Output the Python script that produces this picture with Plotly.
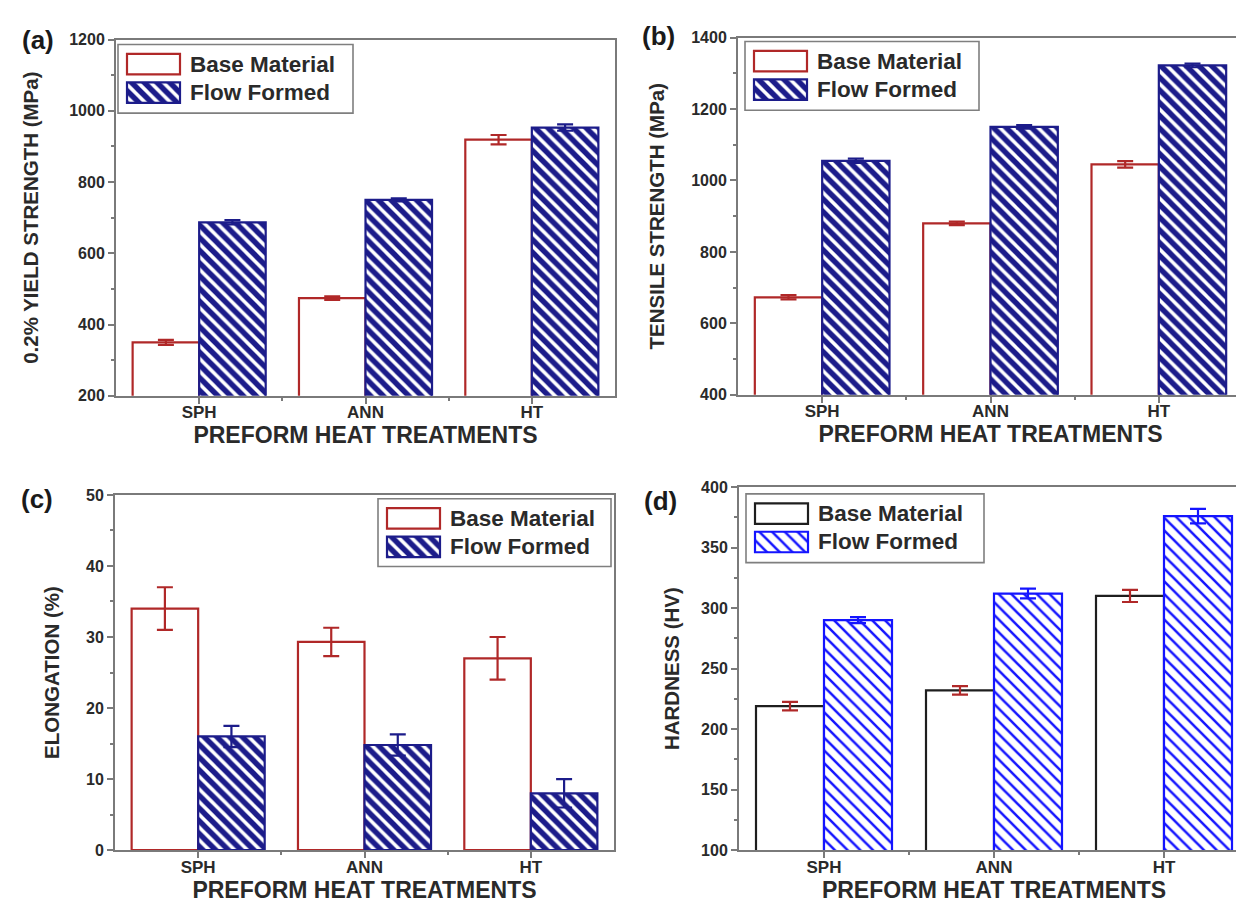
import plotly.graph_objects as go

# ---------------- data ----------------
categories = ["SPH", "ANN", "HT"]

yield_base = [350, 474, 919]
yield_base_err = [7, 5, 13]
yield_flow = [687, 750, 953]
yield_flow_err = [6, 4, 9]

tensile_base = [673, 880, 1045]
tensile_base_err = [6, 5, 9]
tensile_flow = [1055, 1150, 1322]
tensile_flow_err = [6, 5, 5]

elong_base = [34.0, 29.3, 27.0]
elong_base_err = [3.0, 2.0, 3.0]
elong_flow = [16.0, 14.8, 8.0]
elong_flow_err = [1.5, 1.5, 2.0]

hard_base = [219, 232, 310]
hard_base_err = [3.5, 3.5, 5.0]
hard_flow = [290, 312, 376]
hard_flow_err = [2.5, 4.0, 6.0]

series_names = ["Base Material", "Flow Formed"]
x_title = "PREFORM HEAT TREATMENTS"

# ---------------- style / geometry ----------------
W, H = 1244, 911


def clamp(v):
    return max(0.0, min(1.0, v))


def fx(X):
    return clamp(X / W)


def fy(Y):
    return clamp(1 - Y / H)


FONT = "Liberation Sans, Arial, sans-serif"
FRAME = "#7a7a7a"
TXT = "#2a2a2a"
RED = "#b02828"
NAVY = "#1c1c8a"
BLUE = "#1414ff"

xpos = list(range(len(categories)))

panels = [
    dict(label="(a)", base=yield_base, base_err=yield_base_err,
         flow=yield_flow, flow_err=yield_flow_err,
         ytitle="0.2% YIELD STRENGTH (MPa)", yrange=[200, 1200], dtick=200, minor=100,
         px=(108, 607), py=(24, 387), outline=RED, ff=NAVY, solid=0.6,
         lab=(30, 24), box=(110, 29, 345, 99), standoff=25),
    dict(label="(b)", base=tensile_base, base_err=tensile_base_err,
         flow=tensile_flow, flow_err=tensile_flow_err,
         ytitle="TENSILE STRENGTH (MPa)", yrange=[400, 1400], dtick=200, minor=100,
         px=(730, 1235), py=(22, 386), outline=RED, ff=NAVY, solid=0.6,
         lab=(650, 20), box=(737, 26, 971, 96), standoff=21),
    dict(label="(c)", base=elong_base, base_err=elong_base_err,
         flow=elong_flow, flow_err=elong_flow_err,
         ytitle="ELONGATION (%)", yrange=[0, 50], dtick=10, minor=5,
         px=(107, 606), py=(488, 850), outline=RED, ff=NAVY, solid=0.6,
         lab=(29, 492), box=(370, 492, 603, 561), standoff=21),
    dict(label="(d)", base=hard_base, base_err=hard_base_err,
         flow=hard_flow, flow_err=hard_flow_err,
         ytitle="HARDNESS (HV)", yrange=[100, 400], dtick=50, minor=25,
         px=(731, 1241), py=(480, 850), outline="#1e1e1e", ff=BLUE, solid=0.28,
         lab=(652, 494), box=(738, 487, 976, 557), standoff=16),
]

fig = go.Figure()
layout = dict(
    width=W, height=H, margin=dict(l=0, r=0, t=0, b=0), autosize=False,
    paper_bgcolor="white", plot_bgcolor="rgba(0,0,0,0)",
    barmode="group", bargap=0.2, bargroupgap=0.0, showlegend=False,
    font=dict(family=FONT, color=TXT),
    annotations=[], shapes=[],
)


def base_marker(p):
    return dict(color="rgba(255,255,255,0)", line=dict(color=p["outline"], width=2.2))


def flow_marker(p):
    return dict(color="white", line=dict(color=p["ff"], width=2.2),
                pattern=dict(shape="\\", fgcolor=p["ff"], bgcolor="white",
                             fgopacity=1, size=9, solidity=p["solid"]))


for i, p in enumerate(panels):
    n = i + 1
    xa = "x" if n == 1 else f"x{n}"
    ya = "y" if n == 1 else f"y{n}"

    fig.add_trace(go.Bar(
        x=xpos, y=p["base"], name=series_names[0], xaxis=xa, yaxis=ya,
        marker=base_marker(p),
        error_y=dict(type="data", array=p["base_err"], visible=True,
                     color=RED, thickness=2.2, width=8),
    ))
    fig.add_trace(go.Bar(
        x=xpos, y=p["flow"], name=series_names[1], xaxis=xa, yaxis=ya,
        marker=flow_marker(p),
        error_y=dict(type="data", array=p["flow_err"], visible=True,
                     color=p["ff"], thickness=2.2, width=8),
    ))

    x0, x1 = p["px"]
    y0, y1 = p["py"]
    axcommon = dict(
        showline=True, linecolor=FRAME, linewidth=2, mirror=True,
        ticks="outside", ticklen=6, tickwidth=1.5, tickcolor=FRAME,
        showgrid=False, zeroline=False,
    )
    layout["xaxis" if n == 1 else f"xaxis{n}"] = dict(
        domain=[fx(x0), fx(x1)], anchor=ya, range=[-0.5, 2.5],
        tickmode="array", tickvals=xpos, ticktext=categories,
        tickfont=dict(size=17, family=FONT, color=TXT, weight="bold"),
        ticklabelstandoff=-6,
        minor=dict(tickmode="array", tickvals=[0.5, 1.5], ticks="outside",
                   ticklen=3, tickcolor=FRAME, tickwidth=1.5),
        title=dict(text=x_title, standoff=5,
                   font=dict(size=23, family=FONT, color=TXT, weight="bold")),
        **axcommon,
    )
    layout["yaxis" if n == 1 else f"yaxis{n}"] = dict(
        domain=[fy(y1), fy(y0)], anchor=xa, range=p["yrange"],
        tickmode="linear", tick0=p["yrange"][0], dtick=p["dtick"],
        tickfont=dict(size=16, family=FONT, color=TXT, weight="bold"),
        minor=dict(dtick=p["minor"], ticks="outside", ticklen=3,
                   tickcolor=FRAME, tickwidth=1.5),
        title=dict(text=p["ytitle"], standoff=p["standoff"],
                   font=dict(size=20.5, family=FONT, color=TXT, weight="bold")),
        **axcommon,
    )

    # ---- legend (box + large swatches + labels) ----
    L, T, R, B = p["box"]
    layout["shapes"].append(dict(
        type="rect", xref="paper", yref="paper",
        x0=fx(L), x1=fx(R), y0=fy(B), y1=fy(T),
        line=dict(color="#7f7f7f", width=1.6), fillcolor="rgba(0,0,0,0)", layer="above",
    ))
    m = n + 4
    lxa, lya = f"x{m}", f"y{m}"
    sw_l, sw_r = L + 9, L + 62
    pad = (sw_r - sw_l) * 0.05
    row_top, row_bot = T + 20, T + 49
    step = row_bot - row_top
    layout[f"xaxis{m}"] = dict(domain=[fx(sw_l - pad), fx(sw_r + pad)], anchor=lya,
                               range=[-0.05, 1.05], visible=False, fixedrange=True)
    layout[f"yaxis{m}"] = dict(domain=[fy(row_bot + step / 2), fy(row_top - step / 2)],
                               anchor=lxa, range=[0.5, 2.5], visible=False, fixedrange=True)
    fig.add_trace(go.Bar(x=[1], y=[2], orientation="h", width=0.72, offset=-0.36,
                         xaxis=lxa, yaxis=lya, marker=base_marker(p),
                         hoverinfo="skip", name=series_names[0]))
    fig.add_trace(go.Bar(x=[1], y=[1], orientation="h", width=0.72, offset=-0.36,
                         xaxis=lxa, yaxis=lya, marker=flow_marker(p),
                         hoverinfo="skip", name=series_names[1]))
    for txt, ry in zip(series_names, (row_top, row_bot)):
        layout["annotations"].append(dict(
            text=txt, xref="paper", yref="paper", x=fx(L + 70), y=fy(ry),
            xanchor="left", yanchor="middle", showarrow=False,
            font=dict(size=22.5, family=FONT, color=TXT, weight="bold"),
        ))

    ax_, ay_ = p["lab"]
    layout["annotations"].append(dict(
        text=p["label"], xref="paper", yref="paper", x=fx(ax_), y=fy(ay_),
        xanchor="center", yanchor="middle", showarrow=False,
        font=dict(size=26, family=FONT, color="#1a1a1a", weight="bold"),
    ))

fig.update_layout(**layout)
fig.write_html("out.html")
